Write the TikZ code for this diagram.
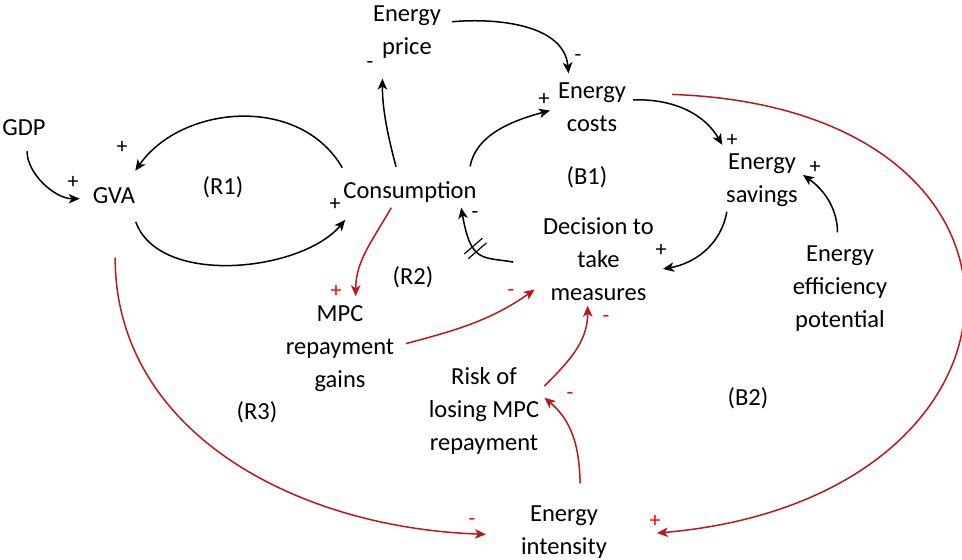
\documentclass[tikz,border=0pt]{standalone}
\usepackage{fontspec}
\setmainfont{Carlito}
\usetikzlibrary{arrows.meta}
\definecolor{cldred}{RGB}{192,22,26}
\definecolor{signred}{RGB}{255,0,0}
\tikzset{
  var/.style={align=center,inner sep=5pt,font=\fontsize{24.5}{33}\selectfont},
  sgn/.style={inner sep=0pt,font=\fontsize{22}{22}\selectfont},
  link/.style={->,line width=1.5pt,>={Stealth[length=11pt,width=9.5pt,inset=3pt]}},
  redlink/.style={link,draw=cldred},
  delaybar/.style={sloped,inner sep=0pt,pos=0.62}
}
\begin{document}
\begin{tikzpicture}[x=1pt,y=-1pt]
\useasboundingbox (0,0) rectangle (962,560);
% variables
\node[var] (1) at (24,128) {GDP};
\node[var] (2) at (114,195.5) {GVA};
\node[var] (3) at (410,192) {Consumption};
\node[var] (4) at (407,32) {Energy\\price};
\node[var] (5) at (592,107) {Energy\\costs};
\node[var] (6) at (762,180) {Energy\\savings};
\node[var] (7) at (598.5,259) {Decision to\\take\\measures};
\node[var] (8) at (840,288.5) {Energy\\efficiency\\potential};
\node[var] (9) at (340,348.5) {MPC\\repayment\\gains};
\node[var] (10) at (484,410.5) {Risk of\\losing MPC\\repayment};
\node[var] (11) at (564,532) {Energy\\intensity};
% loops
\node[var] (R1) at (223,187) {(R1)};
\node[var] (R2) at (413,277) {(R2)};
\node[var] (R3) at (257,412) {(R3)};
\node[var] (B1) at (587,177) {(B1)};
\node[var] (B2) at (748,398) {(B2)};
% polarities
\node[sgn] (s1) at (73,182) {+};
\node[sgn] (s2) at (122,147) {+};
\node[sgn] (s3) at (335,204) {+};
\node[sgn] (s4) at (370,65) {-};
\node[sgn] (s5) at (578,58) {-};
\node[sgn] (s6) at (544,99) {+};
\node[sgn] (s7) at (732,140) {+};
\node[sgn] (s8) at (815,167) {+};
\node[sgn] (s9) at (661,250) {+};
\node[sgn] (s10) at (475,215) {-};
\node[sgn,text=signred] (s11) at (336,291) {+};
\node[sgn,text=signred] (s12) at (511,293) {-};
\node[sgn,text=signred] (s13) at (606,319) {-};
\node[sgn,text=signred] (s14) at (570,396) {-};
\node[sgn,text=signred] (s15) at (472,522) {-};
\node[sgn,text=signred] (s16) at (655,521) {+};
% black links
\draw[link,shorten <=10pt,shorten >=8pt] (1.-77) to[out=-90,in=180] (2.187);
\draw[link,shorten <=10pt,shorten >=14pt] (3.166) to[out=120,in=55,looseness=1.1] (2.45);
\draw[link,shorten <=14pt,shorten >=16pt] (2.-38) to[out=-70,in=-130,looseness=0.95] (3.196);
\draw[link,shorten <=10pt,shorten >=15pt] (3.126) to[out=105,in=-90] (4.-128);
\draw[link,shorten <=6pt,shorten >=4pt] (4.14) to[out=5,in=95] (5.128);
\draw[link,shorten <=10pt,shorten >=3pt] (3.15) to[out=80,in=195] (5.184);
\draw[link,shorten <=2pt,shorten >=4pt] ([yshift=7pt]5.east) to[out=2,in=120] (6.140);
\draw[link,shorten <=8pt] (8.93) to[out=90,in=-35] (6.7);
\draw[link,shorten >=4pt] (6.-138) to[out=-100,in=10] (7.-10);
\draw[link,shorten <=25pt] (7.187) to[out=170,in=-80,looseness=1.5] node[delaybar] (d1) {\rule{1.2pt}{24pt}\hspace{5pt}\rule{1.2pt}{24pt}} (3.-17);
% red links
\draw[redlink,shorten >=4pt] (3.-140) to[out=-120,in=90] (9.72);
\draw[redlink,shorten <=7pt,shorten >=4pt] (9.3) to[out=15,in=-145] (7.205);
\draw[redlink] (10.22) to[out=45,in=-90] (7.-103);
\draw[redlink,shorten <=17pt] (11.62) to[out=92,in=-40] (10.12);
\draw[redlink,shorten <=49pt,shorten >=30pt] (2.-85) to[out=-90,in=178,looseness=1.1] (11.184);
\draw[redlink,shorten <=41pt,shorten >=45pt] ([yshift=14pt]5.east) to[out=-2,in=5,looseness=2.55] (11.-6);
\end{tikzpicture}
\end{document}
